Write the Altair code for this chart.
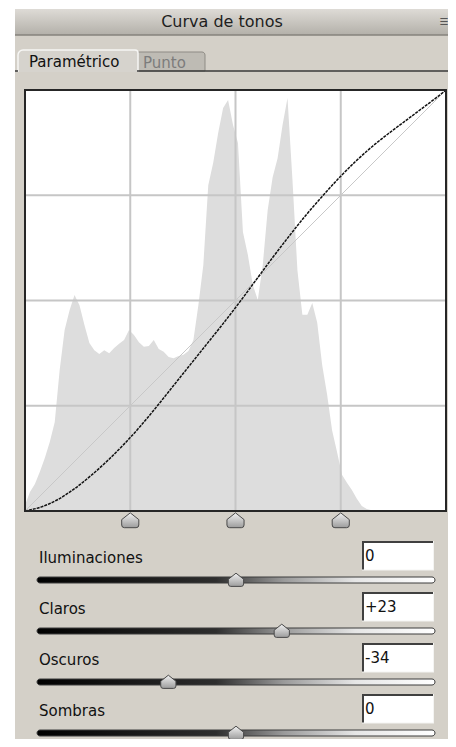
import altair as alt
import pandas as pd

# ---------------- data ----------------
TITLE = "Curva de tonos"
TAB_ACTIVE = "Paramétrico"
TAB_OTHER = "Punto"

HIST_STEP = 3  # tone levels between histogram samples (0..255)
hist_counts = [1.4, 4.5, 6.4, 9.3, 12.6, 16.4, 21.1, 33.5, 43.0, 47.7,
               51.3, 48.9, 44.2, 39.9, 38.2, 37.3, 38.2, 37.5, 38.7, 39.7,
               40.6, 43.0, 41.8, 40.1, 39.0, 39.2, 40.6, 38.5, 37.8, 36.6,
               36.3, 36.8, 37.1, 38.0, 40.6, 48.9, 58.4, 77.4, 82.7, 89.8,
               95.7, 97.6, 91.7, 87.4, 66.3, 60.8, 53.7, 50.1, 58.4, 71.5,
               79.3, 83.8, 91.7, 98.1, 78.6, 57.2, 46.6, 46.6, 49.4, 44.7,
               34.7, 27.6, 19.2, 14.0, 8.6, 6.7, 5.0, 2.9, 1.2, 0.5,
               0.2, 0.1, 0, 0, 0, 0, 0, 0, 0, 0, 0, 0, 0, 0, 0, 0]

curve_in = [0, 10, 20, 30, 40, 50, 60, 70, 80, 90, 100, 110, 120, 130,
            140, 150, 160, 170, 180, 190, 200, 210, 220, 230, 240, 250, 255]
curve_out = [0, 2.5, 7, 13.5, 21.5, 30.5, 40.5, 51.5, 63.5, 76, 88.5, 101,
             113.5, 126.5, 140, 153.5, 166.5, 179, 190.5, 201.5, 211.5,
             220.5, 228.5, 236, 243.5, 251, 255]

identity_line = [0, 255]
grid_levels = [63.75, 127.5, 191.25]
split_levels = [63.75, 127.5, 191.25]

slider_names = ["Iluminaciones", "Claros", "Oscuros", "Sombras"]
slider_values = [0, 23, -34, 0]
slider_range = [-100, 100]

# ---------------- layout helpers ----------------
FONT = "DejaVu Sans"
X0, Y0 = 25, 90        # page position of the plot's top-left corner
W = H = 421            # plot size
PAD = {"left": 17, "top": 82, "right": 2, "bottom": 228}


def px(x):
    return x - X0


def py(y):
    return y - Y0


one = pd.DataFrame({"k": [0]})


def box(x1, y1, x2, y2, **kw):
    return alt.Chart(one).mark_rect(**kw).encode(
        x=alt.value(px(x1)), x2=alt.value(px(x2)),
        y=alt.value(py(y1)), y2=alt.value(py(y2)))


def label(X, Y, s, **kw):
    kw.setdefault("font", FONT)
    kw.setdefault("baseline", "middle")
    return alt.Chart(one).mark_text(**kw).encode(
        x=alt.value(px(X)), y=alt.value(py(Y)), text=alt.value(s))


def hline(x1, x2, Y, color, w=1):
    return alt.Chart(one).mark_rule(color=color, strokeWidth=w).encode(
        x=alt.value(px(x1)), x2=alt.value(px(x2)), y=alt.value(py(Y)))


def vline(X, y1, y2, color, w=1):
    return alt.Chart(one).mark_rule(color=color, strokeWidth=w).encode(
        x=alt.value(px(X)), y=alt.value(py(y1)), y2=alt.value(py(y2)))


def vgrad(c1, c2):
    return alt.LinearGradient(gradient="linear", x1=0, x2=0, y1=0, y2=1,
                              stops=[alt.GradientStop(color=c1, offset=0),
                                     alt.GradientStop(color=c2, offset=1)])


track_grad = alt.LinearGradient(
    gradient="linear", x1=0, x2=1, y1=0, y2=0,
    stops=[alt.GradientStop(color="#000000", offset=0),
           alt.GradientStop(color="#2e2e2e", offset=0.45),
           alt.GradientStop(color="#9a9a9a", offset=0.62),
           alt.GradientStop(color="#e6e6e6", offset=0.8),
           alt.GradientStop(color="#ffffff", offset=1)])

HANDLE = ("M0,-0.85L0.95,-0.1L0.95,0.5Q0.95,0.8 0.65,0.8L-0.65,0.8"
          "Q-0.95,0.8 -0.95,0.5L-0.95,-0.1Z")

lvl = alt.Scale(domain=[0, 255], nice=False, zero=False)
pct = alt.Scale(domain=[0, 100], nice=False)
sl_scale = alt.Scale(domain=slider_range, range=[px(37), px(435)], nice=False)

layers = []

# panel background, title bar
layers.append(box(15, 35, 456, 739, fill="#d4d0c8"))
layers.append(box(15, 9, 456, 35, fill=vgrad("#dedbd6", "#b3b0a9")))
layers.append(hline(15, 456, 35, "#86837d", 1.5))
layers.append(label(222, 22, TITLE, align="center", fontSize=16, color="#1e1e1e"))
layers.append(label(444, 22, "☰", align="center", fontSize=10, color="#555555"))

# tabs
layers.append(box(137, 52, 205, 71, fill="#bebbb4", stroke="#8e8b85",
                  strokeWidth=1, cornerRadiusTopRight=3))
layers.append(label(143, 63, TAB_OTHER, align="left", fontSize=15, color="#7c7c7c"))
layers.append(box(18, 50, 138, 74, fill="#d6d3cd", stroke="#f6f6f4",
                  strokeWidth=1.5, cornerRadiusTopLeft=5, cornerRadiusTopRight=3))
layers.append(box(16, 72, 140, 76, fill="#d4d0c8"))
layers.append(hline(137, 456, 71, "#3a3a3a", 1.5))
layers.append(hline(15, 18, 71, "#3a3a3a", 1.5))
layers.append(label(29, 62, TAB_ACTIVE, align="left", fontSize=15, color="#111111"))

# plot area
layers.append(alt.Chart(one).mark_rect(fill="white").encode(
    x=alt.value(0), x2=alt.value(W), y=alt.value(0), y2=alt.value(H)))

df_hist = pd.DataFrame({"level": [i * HIST_STEP for i in range(len(hist_counts))],
                        "count": hist_counts})
layers.append(alt.Chart(df_hist).mark_area(interpolate="linear", color="#dddddd").encode(
    x=alt.X("level:Q", scale=lvl, axis=None),
    y=alt.Y("count:Q", scale=pct, axis=None)))

df_grid = pd.DataFrame({"g": grid_levels})
layers.append(alt.Chart(df_grid).mark_rule(color="#c6c6c6", strokeWidth=2).encode(
    x=alt.X("g:Q", scale=lvl, axis=None)))
layers.append(alt.Chart(df_grid).mark_rule(color="#c6c6c6", strokeWidth=2).encode(
    y=alt.Y("g:Q", scale=lvl, axis=None)))

df_diag = pd.DataFrame({"a": identity_line, "b": identity_line})
layers.append(alt.Chart(df_diag).mark_line(color="#c8c8c8", strokeWidth=1).encode(
    x=alt.X("a:Q", scale=lvl, axis=None), y=alt.Y("b:Q", scale=lvl, axis=None)))

df_curve = pd.DataFrame({"inp": curve_in, "out": curve_out})
layers.append(alt.Chart(df_curve).mark_line(
    interpolate="monotone", color="#111111", strokeWidth=1.5, strokeDash=[3, 1]).encode(
    x=alt.X("inp:Q", scale=lvl, axis=None), y=alt.Y("out:Q", scale=lvl, axis=None)))

layers.append(alt.Chart(one).mark_rect(fillOpacity=0, stroke="#262626", strokeWidth=2).encode(
    x=alt.value(0), x2=alt.value(W), y=alt.value(0), y2=alt.value(H)))

# split handles under the plot
df_split = pd.DataFrame({"s": split_levels})
layers.append(alt.Chart(df_split).mark_point(
    shape=HANDLE, size=324, filled=True, fill=vgrad("#f2f2f2", "#9c9c9c"),
    stroke="#4a4a4a", strokeWidth=1, opacity=1).encode(
    x=alt.X("s:Q", scale=lvl, axis=None), y=alt.value(py(520.5))))

# sliders
for i, (name, val) in enumerate(zip(slider_names, slider_values)):
    dy = 51 * i
    txt = f"{val:+d}" if val else "0"
    layers.append(label(39, 558 + dy, name, align="left", fontSize=15, color="#111111"))
    layers.append(box(362, 541 + dy, 433, 570 + dy, fill="white"))
    layers.append(hline(362, 433, 542 + dy, "#404040", 2))
    layers.append(vline(363, 541 + dy, 570 + dy, "#404040", 2))
    layers.append(hline(362, 434, 570 + dy, "#f4f4f2", 1))
    layers.append(vline(433.5, 541 + dy, 570 + dy, "#f4f4f2", 1))
    layers.append(label(365, 556 + dy, txt, align="left", fontSize=15, color="#111111"))
    df_track = pd.DataFrame({"lo": [slider_range[0]], "hi": [slider_range[1]]})
    layers.append(alt.Chart(df_track).mark_rect(
        fill=track_grad, stroke="#3c3c3c", strokeWidth=1, cornerRadius=3).encode(
        x=alt.X("lo:Q", scale=sl_scale, axis=None), x2="hi:Q",
        y=alt.value(py(577 + dy)), y2=alt.value(py(583 + dy))))
    df_row = pd.DataFrame({"value": [val]})
    layers.append(alt.Chart(df_row).mark_point(
        shape=HANDLE, size=256, filled=True, fill=vgrad("#f2f2f2", "#9c9c9c"),
        stroke="#4a4a4a", strokeWidth=1, opacity=1).encode(
        x=alt.X("value:Q", scale=sl_scale, axis=None), y=alt.value(py(580 + dy))))

chart = alt.layer(*layers).resolve_scale(x="independent", y="independent").properties(
    width=W, height=H,
    autosize=alt.AutoSizeParams(type="none"),
    padding=PAD,
    background="white",
).configure_view(stroke=None)

chart.save("out.html", embed_options={"renderer": "svg", "actions": False})
